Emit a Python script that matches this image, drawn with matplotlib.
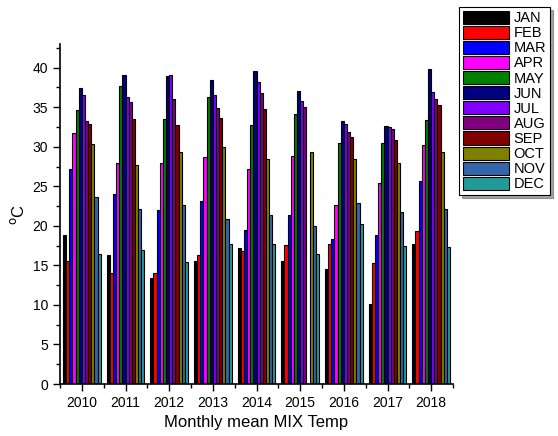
import numpy as np
import matplotlib.pyplot as plt
from matplotlib.ticker import MultipleLocator

plt.rcParams['font.family'] = ['Liberation Sans', 'DejaVu Sans']

years = ['2010', '2011', '2012', '2013', '2014', '2015', '2016', '2017', '2018']
months = ['JAN', 'FEB', 'MAR', 'APR', 'MAY', 'JUN',
          'JUL', 'AUG', 'SEP', 'OCT', 'NOV', 'DEC']

# monthly mean temperature, one list per month across the years
jan = [18.8, 16.3, 13.4, 15.5, 17.2, 15.6, 14.6, 10.1, 17.7]
feb = [15.5, 14.1, 14.1, 16.3, 16.8, 17.6, 17.7, 15.3, 19.3]
mar = [27.2, 24.0, 22.0, 23.2, 19.5, 21.4, 18.4, 18.8, 25.7]
apr = [31.7, 28.0, 28.0, 28.7, 27.2, 28.8, 22.7, 25.4, 30.2]
may = [34.6, 37.7, 33.5, 36.3, 32.8, 34.2, 30.5, 30.5, 33.4]
jun = [37.4, 39.1, 39.0, 38.5, 39.6, 37.0, 33.3, 32.6, 39.9]
jul = [36.5, 36.3, 39.1, 36.5, 38.2, 35.8, 32.9, 32.5, 36.9]
aug = [33.2, 35.7, 36.0, 34.9, 36.8, 35.0, 31.9, 32.2, 36.0]
sep = [32.9, 33.5, 32.8, 33.7, 34.8, np.nan, 31.2, 30.8, 35.3]
oct_ = [30.4, 27.7, 29.4, 30.0, 28.4, 29.4, 28.5, 28.0, 29.3]
nov = [23.6, 22.1, 22.7, 20.9, 21.4, 20.0, 22.9, 21.8, 22.1]
dec = [16.5, 16.9, 15.4, 17.7, 17.7, 16.4, 20.2, 17.4, 17.3]

series = [jan, feb, mar, apr, may, jun, jul, aug, sep, oct_, nov, dec]
colors = ['#000000', '#FF0000', '#0000FF', '#FF00FF', '#008000', '#000080',
          '#8000FF', '#800080', '#800000', '#808000', '#3366AA', '#229A98']

fig = plt.figure(figsize=(5.58, 4.36), dpi=100)
ax = fig.add_axes([60 / 558, 52 / 436, 393 / 558, 340 / 436])

x = np.arange(1, len(years) + 1)
w = 0.072
n = len(series)
for i, (vals, c, m) in enumerate(zip(series, colors, months)):
    ax.bar(x + (i - (n - 1) / 2) * w, vals, width=w, color=c,
           edgecolor='black', linewidth=0.8, label=m)

ax.set_xlim(0.5, 9.5)
ax.set_ylim(0, 43)
ax.set_xticks(x)
ax.set_xticklabels(years)
ax.xaxis.set_minor_locator(plt.FixedLocator(np.arange(0.5, 10, 1)))
ax.yaxis.set_major_locator(MultipleLocator(5))
ax.yaxis.set_minor_locator(MultipleLocator(2.5))
ax.tick_params(which='major', direction='out', length=5, width=1, labelsize=10)
ax.tick_params(which='minor', direction='out', length=3, width=1)
for s in ['top', 'right']:
    ax.spines[s].set_visible(False)
for s in ['left', 'bottom']:
    ax.spines[s].set_linewidth(1.2)

ax.set_xlabel('Monthly mean MIX Temp', fontsize=12)
ax.set_ylabel('$^{\\rm o}$C', fontsize=12)

leg = ax.legend(loc='upper left', bbox_to_anchor=(459 / 558, 1 - 7 / 436),
                bbox_transform=fig.transFigure, fontsize=10.5, frameon=True,
                fancybox=False, shadow=True, handlelength=3.2, handleheight=1.0,
                labelspacing=0.04, borderpad=0.25, handletextpad=0.3,
                borderaxespad=0)
leg.get_frame().set_edgecolor('black')
leg.get_frame().set_linewidth(0.8)

fig.savefig('out.png', dpi=100)
